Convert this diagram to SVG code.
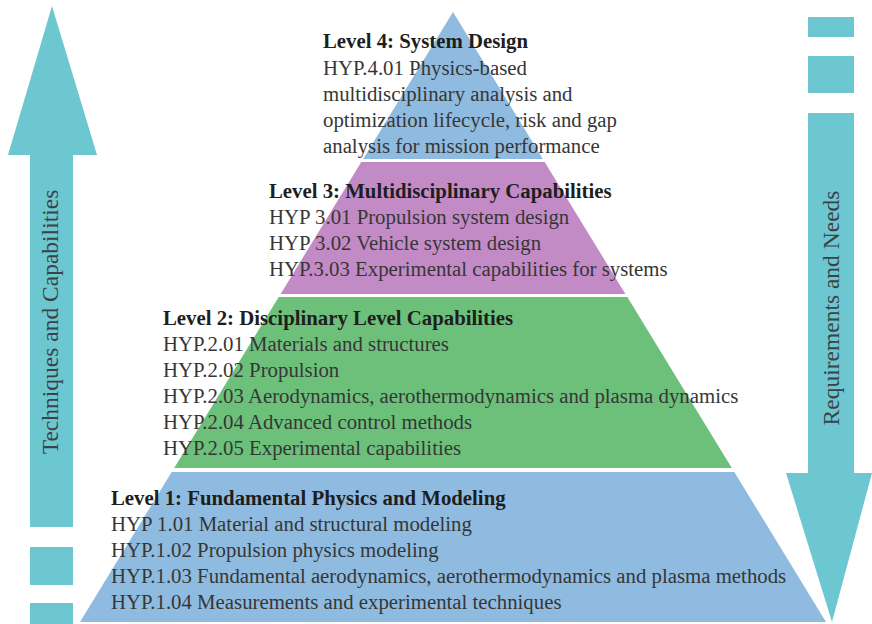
<svg xmlns="http://www.w3.org/2000/svg" width="872" height="624" viewBox="0 0 872 624">
  <style>
    .arrow { fill: #6cc7d1; }
    .t { font-family: "Liberation Serif", "Times New Roman", serif; font-size: 20.8px; fill: #363636; }
    .h { font-weight: bold; fill: #1e1e1e; }
    .side { font-family: "Liberation Serif", "Times New Roman", serif; font-size: 23.5px; fill: #3a4446; }
  </style>
  <rect width="872" height="624" fill="#ffffff"/>

  <!-- Upward arrow: techniques and capabilities -->
  <g id="arrow-up">
    <polygon class="arrow" points="52,6 97,155 73,155 73,527 30,527 30,155 8,155"/>
    <rect class="arrow" x="30" y="547" width="43" height="38"/>
    <rect class="arrow" x="30" y="603" width="43" height="21"/>
    <text class="side" transform="translate(58,322) rotate(-90)" text-anchor="middle">Techniques and Capabilities</text>
  </g>

  <!-- Downward arrow: requirements and needs -->
  <g id="arrow-down">
    <rect class="arrow" x="808" y="17" width="46" height="20"/>
    <rect class="arrow" x="808" y="56" width="46" height="37"/>
    <polygon class="arrow" points="808,113 854,113 854,473 872,473 832,622 786,473 808,473"/>
    <text class="side" transform="translate(839,308) rotate(-90)" text-anchor="middle">Requirements and Needs</text>
  </g>

  <!-- Pyramid levels -->
  <g id="level-1">
    <polygon fill="#8fbbe0" points="171.7,472 734.3,472 826,622 80,622"/>
    <text class="t h" x="111" y="505">Level 1: Fundamental Physics and Modeling</text>
    <text class="t" x="111" y="531">HYP 1.01 Material and structural modeling</text>
    <text class="t" x="111" y="557">HYP.1.02 Propulsion physics modeling</text>
    <text class="t" x="111" y="583">HYP.1.03 Fundamental aerodynamics, aerothermodynamics and plasma methods</text>
    <text class="t" x="111" y="609">HYP.1.04 Measurements and experimental techniques</text>
  </g>

  <g id="level-2">
    <polygon fill="#6cc07a" points="278.7,297 627.3,297 731.8,468 174.2,468"/>
    <text class="t h" x="163" y="325">Level 2: Disciplinary Level Capabilities</text>
    <text class="t" x="163" y="351">HYP.2.01 Materials and structures</text>
    <text class="t" x="163" y="377">HYP.2.02 Propulsion</text>
    <text class="t" x="163" y="403">HYP.2.03 Aerodynamics, aerothermodynamics and plasma dynamics</text>
    <text class="t" x="163" y="429">HYP.2.04 Advanced control methods</text>
    <text class="t" x="163" y="455">HYP.2.05 Experimental capabilities</text>
  </g>

  <g id="level-3">
    <polygon fill="#c38bc6" points="361.3,162 544.7,162 625.4,294 280.6,294"/>
    <text class="t h" x="269" y="198">Level 3: Multidisciplinary Capabilities</text>
    <text class="t" x="269" y="224">HYP 3.01 Propulsion system design</text>
    <text class="t" x="269" y="250">HYP 3.02 Vehicle system design</text>
    <text class="t" x="269" y="276">HYP.3.03 Experimental capabilities for systems</text>
  </g>

  <g id="level-4">
    <polygon fill="#8fbbe0" points="453,12 542.9,159 363.1,159"/>
    <text class="t h" x="323" y="48">Level 4: System Design</text>
    <text class="t" x="323" y="75">HYP.4.01 Physics-based</text>
    <text class="t" x="323" y="101">multidisciplinary analysis and</text>
    <text class="t" x="323" y="127">optimization lifecycle, risk and gap</text>
    <text class="t" x="323" y="153">analysis for mission performance</text>
  </g>
</svg>
